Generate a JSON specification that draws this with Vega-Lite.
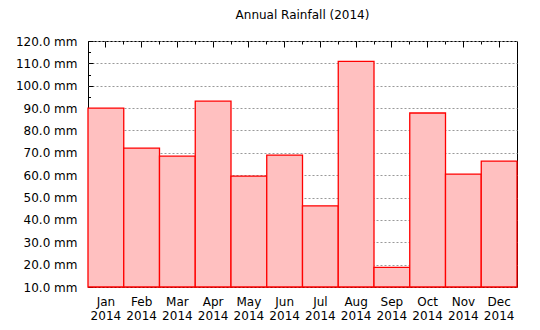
{
  "$schema": "https://vega.github.io/schema/vega-lite/v6.json",
  "width": 429,
  "height": 246,
  "autosize": "none",
  "padding": {"left": 88, "top": 41, "right": 23, "bottom": 43},
  "background": "#ffffff",
  "title": {"text": "Annual Rainfall (2014)", "font": "DejaVu Sans", "fontSize": 12, "fontWeight": "normal", "color": "#000000", "anchor": "middle", "frame": "group", "offset": 13},
  "config": {
    "view": {"stroke": "#000000", "strokeWidth": 1},
    "axis": {"labelFont": "DejaVu Sans", "labelFontSize": 12, "labelColor": "#000000", "tickColor": "#000000", "domain": false, "labelOverlap": false}
  },
  "data": {"values": [
    {"month": "Jan", "rain": 90.0},
    {"month": "Feb", "rain": 72.1},
    {"month": "Mar", "rain": 68.5},
    {"month": "Apr", "rain": 93.1},
    {"month": "May", "rain": 59.6},
    {"month": "Jun", "rain": 69.0},
    {"month": "Jul", "rain": 46.3},
    {"month": "Aug", "rain": 110.9},
    {"month": "Sep", "rain": 18.8},
    {"month": "Oct", "rain": 87.8},
    {"month": "Nov", "rain": 60.5},
    {"month": "Dec", "rain": 66.3}
  ]},
  "layer": [
    {
      "mark": {"type": "bar", "fill": "#ffc0c0", "stroke": "#ff0000", "strokeWidth": 1.3},
      "encoding": {
        "x": {"field": "month", "type": "ordinal", "sort": null,
          "scale": {"paddingInner": 0, "paddingOuter": 0},
          "axis": {"orient": "bottom", "title": null, "ticks": false, "labelAngle": 0, "labelPadding": 9, "labelBaseline": "top", "labelLineHeight": 14, "labelExpr": "[datum.label, '2014']"}},
        "y": {"field": "rain", "type": "quantitative",
          "scale": {"domain": [10, 120], "nice": false, "zero": false},
          "axis": {"title": null,
            "values": [10, 15, 20, 25, 30, 35, 40, 45, 50, 55, 60, 65, 70, 75, 80, 85, 90, 95, 100, 105, 110, 115, 120],
            "tickCount": 50,
            "labelExpr": "datum.value % 10 === 0 ? format(datum.value, '.1f') + ' mm' : ''",
            "tickSize": {"condition": {"test": "datum.value % 10 === 0", "value": -5}, "value": -2.5},
            "labelPadding": 16,
            "grid": true, "gridColor": "#999999", "gridDash": [2, 2],
            "gridOpacity": {"condition": {"test": "datum.value % 10 === 0", "value": 1}, "value": 0}}},
        "y2": {"datum": 10}
      }
    },
    {
      "mark": {"type": "bar", "opacity": 0},
      "encoding": {
        "x": {"field": "month", "type": "ordinal", "sort": null,
          "axis": {"orient": "top", "title": null, "labels": false, "bandPosition": 0.5, "tickSize": 6, "offset": -6}},
        "y": {"field": "rain", "type": "quantitative"},
        "y2": {"datum": 10}
      }
    },
    {
      "mark": {"type": "bar", "opacity": 0},
      "encoding": {
        "x": {"field": "month", "type": "ordinal", "sort": null,
          "axis": {"orient": "top", "title": null, "labels": false, "bandPosition": 0, "tickSize": 3, "offset": -3}},
        "y": {"field": "rain", "type": "quantitative"},
        "y2": {"datum": 10}
      }
    }
  ],
  "resolve": {"axis": {"x": "independent"}}
}
